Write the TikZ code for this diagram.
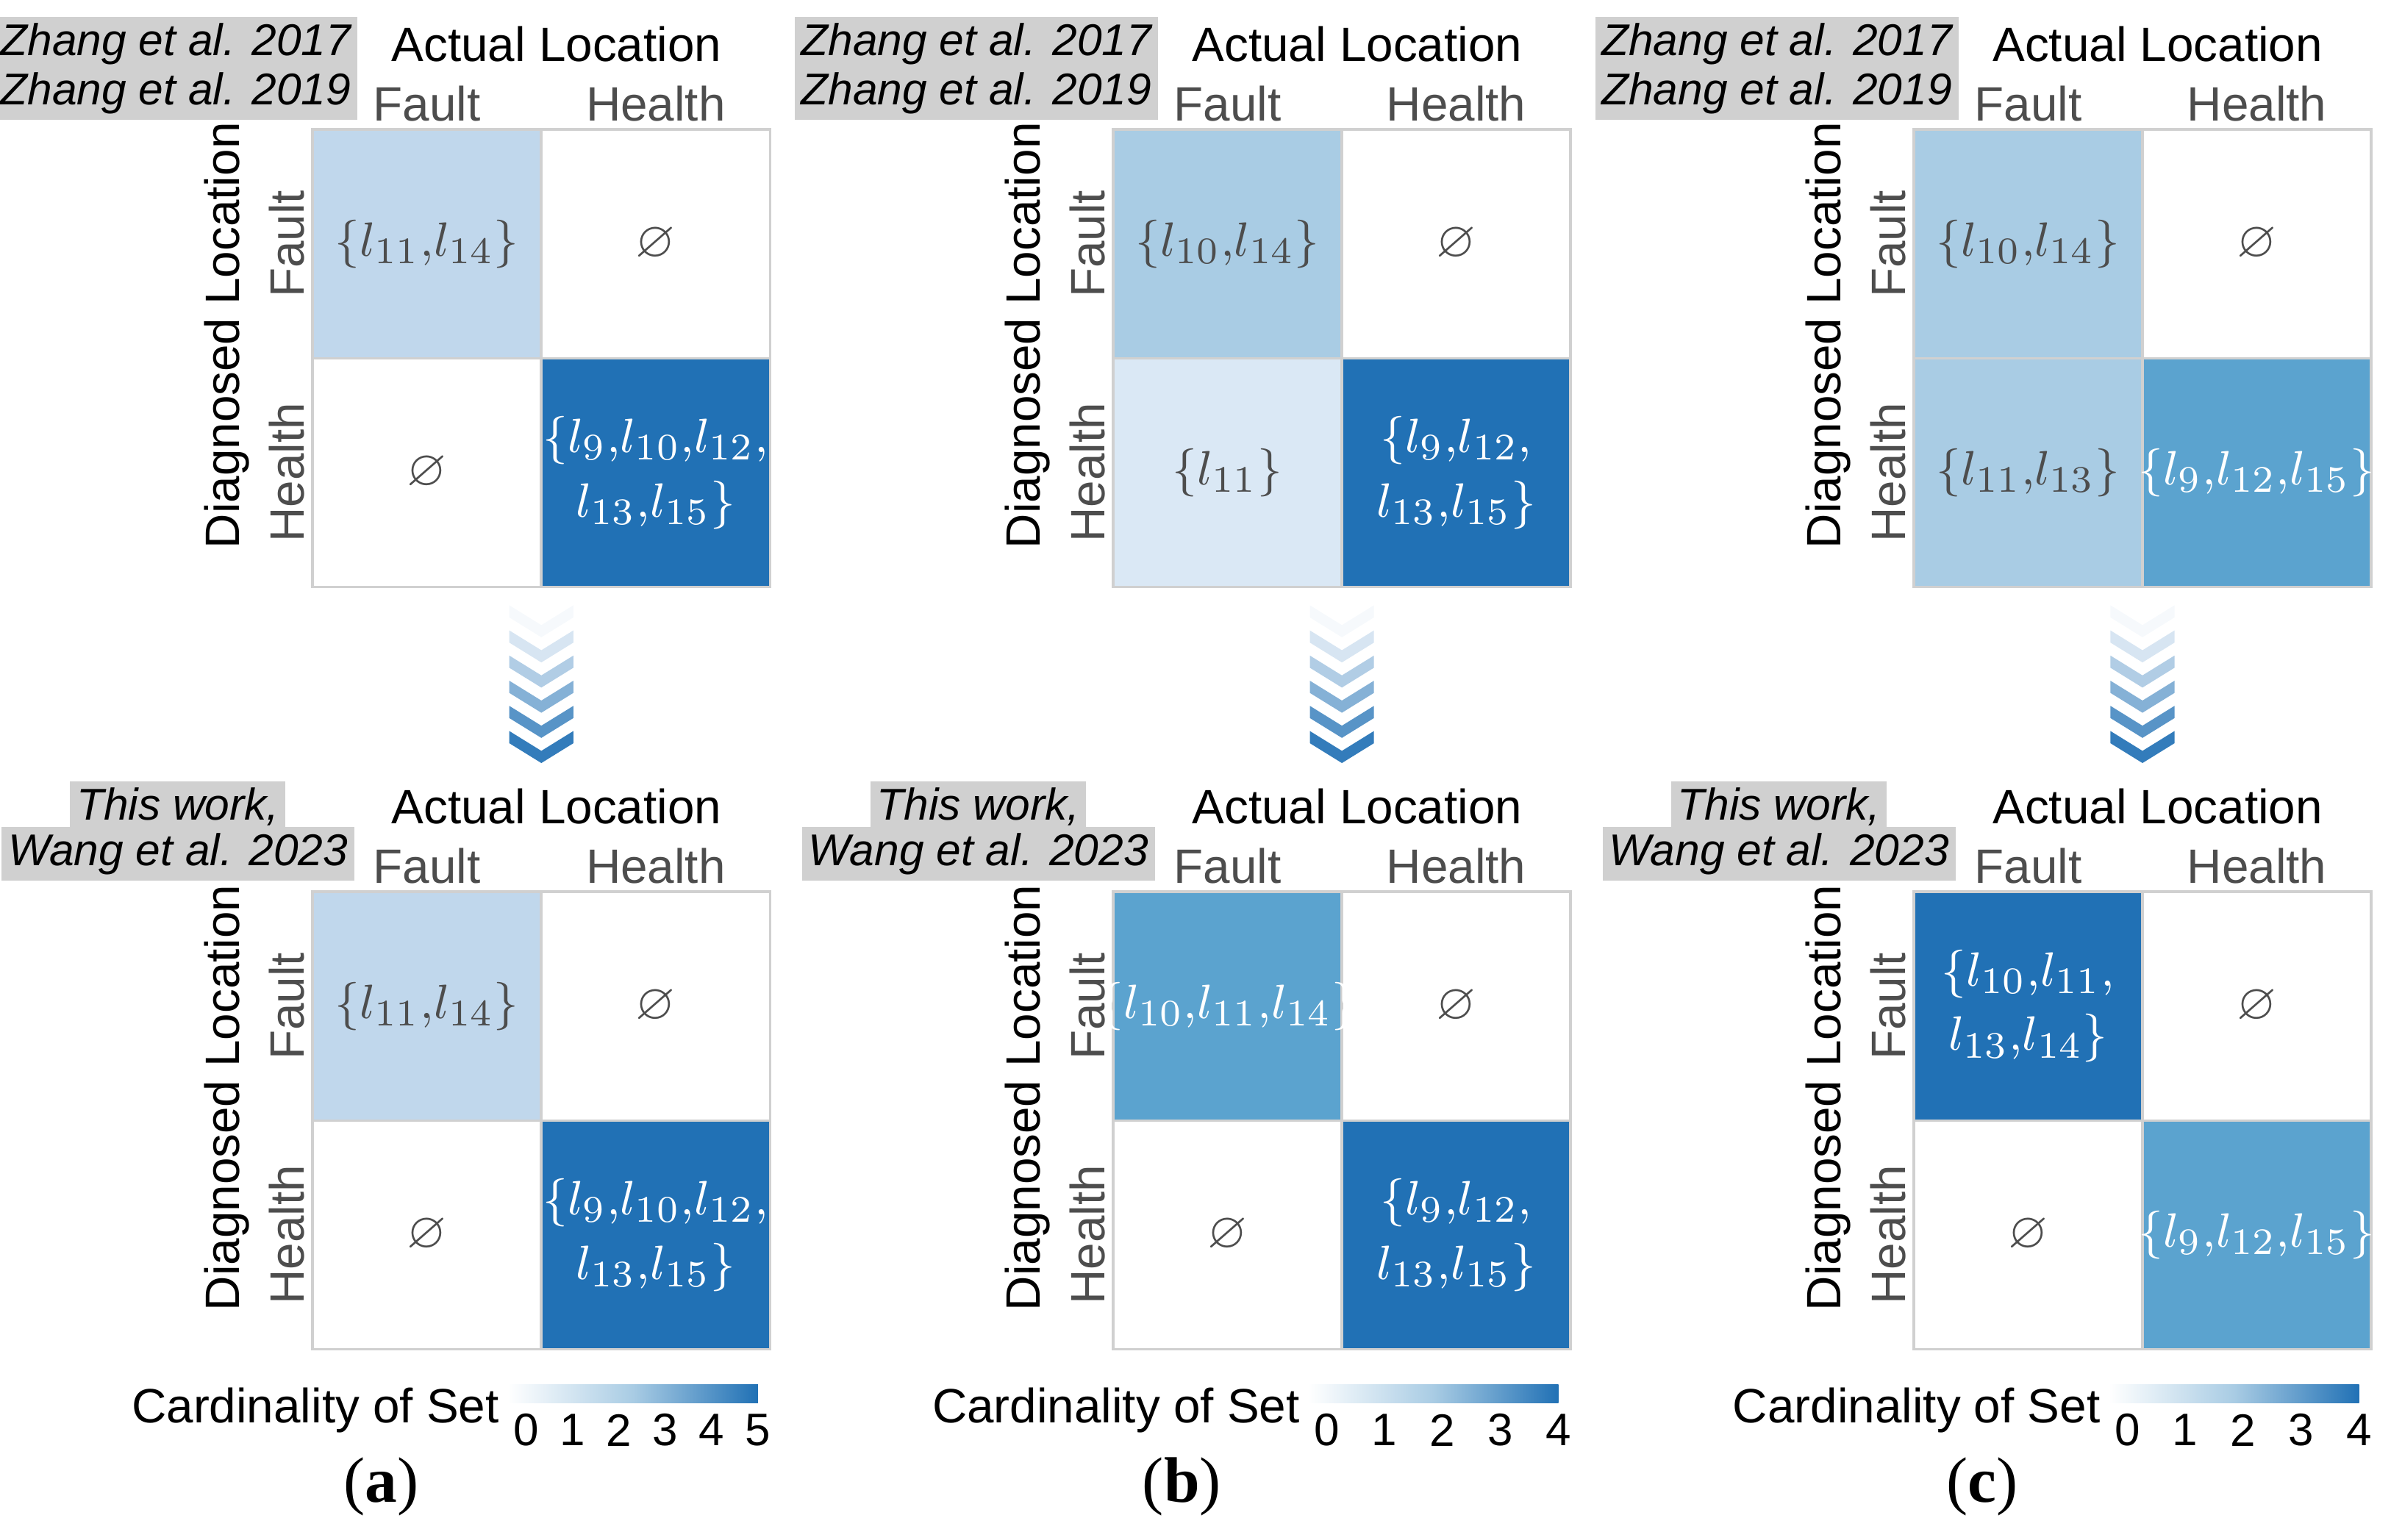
\documentclass[tikz,border=0pt]{standalone}
\usepackage{amssymb}
\usepackage{fontspec}
\setmainfont{Liberation Sans}
\newfontfamily\serifcap{Liberation Serif}
\usetikzlibrary{calc}
\definecolor{c1}{HTML}{DAE8F5}
\definecolor{c2a}{HTML}{C0D7EC}
\definecolor{c2}{HTML}{A9CCE4}
\definecolor{c3}{HTML}{5BA3CF}
\definecolor{c5}{HTML}{2171B5}
\definecolor{tg}{HTML}{4D4D4D}
\definecolor{bx}{HTML}{D0D0D0}
\tikzset{
 lbl/.style={font=\fontsize{9}{11}\selectfont,text=tg,inner sep=0},
 ttl/.style={font=\fontsize{9}{11}\selectfont,inner sep=0},
 ref/.style={font=\fontsize{8.3}{10}\selectfont\itshape,fill=bx,inner sep=1.2pt,anchor=east},
 cell/.style={minimum size=1.5cm,draw=bx,line width=0.5pt,inner sep=0},
 ctext/.style={inner sep=0,align=center,font=\fontsize{9.5}{11}\selectfont},
 cbar/.style={font=\fontsize{8.5}{10}\selectfont,inner sep=0},
}
\newcommand\cm[1]{$\{#1\}$}
% #1 xoff, #2 yoff, #3 name, #4 fill11,#5 text11,#6 fill21,#7 textcolor21,#8 text21,#9 fill22
\newcommand\mtx[9]{%
 \begin{scope}[shift={(#1,#2)}]
 \node[cell,fill=#4] (#3a) at (2.80,-1.60) {};
 \node[cell,fill=white] (#3b) at (4.30,-1.60) {};
 \node[cell,fill=#6] (#3c) at (2.80,-3.10) {};
 \node[cell,fill=#9] (#3d) at (4.30,-3.10) {};
 \node[ctext,text=tg] (#3ta) at (#3a) {#5};
 \node[ctext,text=tg] (#3tb) at (#3b) {$\varnothing$};
 \node[ctext,text=#7] (#3tc) at (#3c) {#8};
 \node[ctext,text=white] (#3td) at (#3d) {\ToCell};
 \node[ttl] (#3t) at (3.65,-0.29) {Actual Location};
 \node[lbl] (#3f) at (2.80,-0.68) {Fault};
 \node[lbl] (#3h) at (4.30,-0.68) {Health};
 \node[lbl,rotate=90] (#3r1) at (1.88,-1.60) {Fault};
 \node[lbl,rotate=90] (#3r2) at (1.88,-3.10) {Health};
 \node[ttl,rotate=90] (#3y) at (1.49,-2.20) {Diagnosed Location};
 \end{scope}}
\newcommand\chev[2]{% xoff, name
 \foreach \i/\c in {0/4,1/18,2/35,3/55,4/75,5/92}{
  \fill[c5!\c!white] ($(#1+3.34,-3.97-0.165*\i)$) -- ++(0.21,-0.13) -- ++(0.21,0.13) -- ++(0,-0.08) -- ++(-0.21,-0.13) -- ++(-0.21,0.13) -- cycle;}
 \coordinate (#2) at (#1+3.55,-4.5);}
\newcommand\cbar[3]{% xoff, max, name
 \begin{scope}[shift={(#1,0)}]
 \shade[left color=white,right color=c5,middle color=c2] (3.33,-9.08) rectangle (4.97,-9.20);
 \node[cbar,anchor=east,font=\fontsize{9}{11}\selectfont] (#3l) at (3.28,-9.25) {Cardinality of Set};
 \foreach \k in {0,...,#2}{\node[cbar] (#3\k) at ({3.45+1.52*\k/#2},-9.38) {\k};}
 \end{scope}}
\begin{document}
\begin{tikzpicture}
\useasboundingbox (0,0) rectangle (15.68,-10.10);
\def\ToCell{$\{l_{9}{,}l_{10}{,}l_{12}{,}$\\[1pt]$l_{13}{,}l_{15}\}$}
\mtx{0}{0}{at}{c2a}{\cm{l_{11}{,}l_{14}}}{white}{tg}{$\varnothing$}{c5}
\mtx{0}{-5}{ab}{c2a}{\cm{l_{11}{,}l_{14}}}{white}{tg}{$\varnothing$}{c5}
\def\ToCell{$\{l_{9}{,}l_{12}{,}$\\[1pt]$l_{13}{,}l_{15}\}$}
\mtx{5.25}{0}{bt}{c2}{\cm{l_{10}{,}l_{14}}}{c1}{tg}{\cm{l_{11}}}{c5}
\mtx{5.25}{-5}{bb}{c3}{\textcolor{white}{\cm{l_{10}{,}l_{11}{,}l_{14}}}}{white}{tg}{$\varnothing$}{c5}
\def\ToCell{$\{l_{9}{,}l_{12}{,}l_{15}\}$}
\mtx{10.50}{0}{ct}{c2}{\cm{l_{10}{,}l_{14}}}{c2}{tg}{\cm{l_{11}{,}l_{13}}}{c3}
\mtx{10.50}{-5}{cb}{c5}{\textcolor{white}{$\{l_{10}{,}l_{11}{,}$}\\[1pt]\textcolor{white}{$l_{13}{,}l_{14}\}$}}{white}{tg}{$\varnothing$}{c3}
\foreach \x/\n in {0/a,5.25/b,10.5/c}{
 \node[ref] (z17\n) at (\x+2.35,-0.29) {Zhang et al. 2017};
 \node[ref] (z19\n) at (\x+2.35,-0.61) {Zhang et al. 2019};
 \node[ref] (tw\n) at (\x+1.88,-5.29) {This work,};
 \node[ref] (wa\n) at (\x+2.33,-5.60) {Wang et al. 2023};
}
\chev{0}{ka}\chev{5.25}{kb}\chev{10.5}{kc}
\cbar{0}{5}{la}\cbar{5.25}{4}{lb}\cbar{10.5}{4}{lc}
\node[font=\fontsize{12}{14}\selectfont\serifcap] (pa) at (2.50,-9.75) {(\textbf{a})};
\node[font=\fontsize{12}{14}\selectfont\serifcap] (pb) at (7.75,-9.75) {(\textbf{b})};
\node[font=\fontsize{12}{14}\selectfont\serifcap] (pc) at (13.00,-9.75) {(\textbf{c})};
\end{tikzpicture}
\end{document}
